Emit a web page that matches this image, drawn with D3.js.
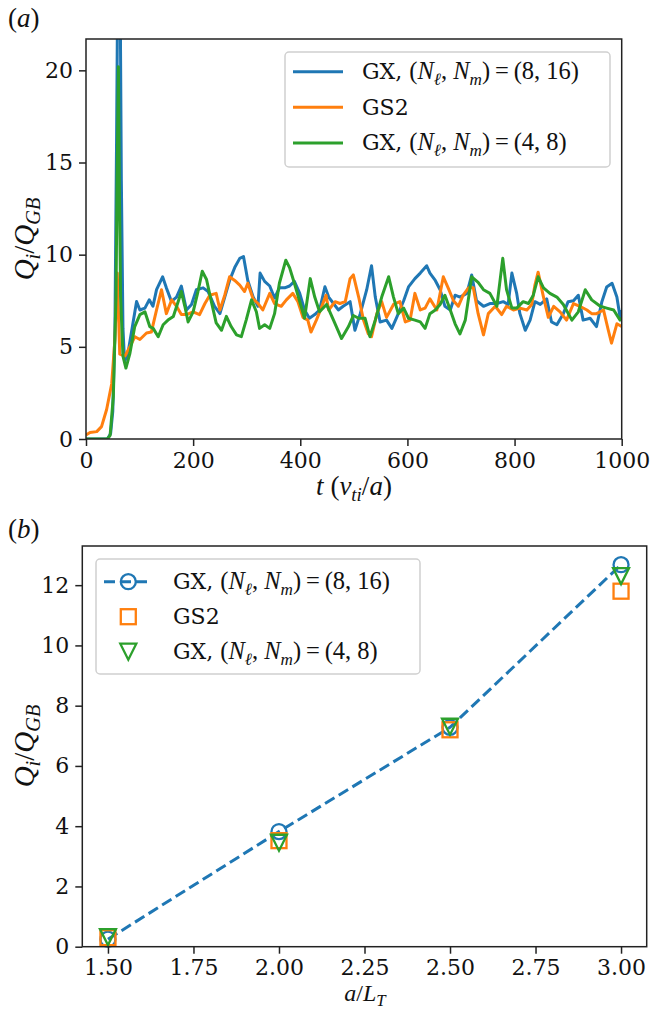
<!DOCTYPE html>
<html>
<head>
<meta charset="utf-8">
<script src="https://cdn.jsdelivr.net/npm/d3@7"></script>
<style>
  body { margin: 0; background: #fff; }
  svg { display: block; }
</style>
</head>
<body>
<svg id="chart" width="654" height="1011"></svg>
<script>
// ---- panel (a): heat flux time traces, [t, Q] pairs
const gx816Trace = [[0,0],[40,0],[46,0.3],[50,1.5],[54,6],[57,16],[60,28],[63,28],[66,14],[69,6],[72,4.2],[78,4.6],[86,6],[94.4,7.46],[100.6,7.0],[110,7.1],[118,7.55],[125,7.2],[131.7,8.1],[143,8.8],[150,8.2],[159.6,7.46],[169,7.7],[178,8.3],[187.5,7.0],[197,7.3],[206,8.1],[218.6,8.2],[228,8.0],[240,7.2],[250,6.8],[259,7.7],[268,8.6],[277.6,9.3],[287,9.8],[294,9.9],[302,8.6],[312,7.7],[321,7.2],[325,9.0],[333.5,8.55],[343,8.3],[352,7.65],[361,8.2],[371,8.2],[380,8.3],[389,8.55],[399,7.9],[408,7.0],[417,6.55],[427,6.75],[436,7.0],[446,8.26],[453,7.7],[462,7.35],[471,7.0],[480,7.2],[493,7.45],[502,5.9],[512,6.8],[524,8.1],[533,9.4],[540,7.7],[549,6.35],[561,6.45],[571,6.0],[580,6.6],[593,7.5],[602,8.25],[614,8.7],[624,9.0],[636,9.4],[642,9.0],[652,8.6],[661,8.1],[670,7.2],[680,7.0],[689,7.8],[698,7.7],[711,7.9],[720,8.9],[729,7.5],[742,7.2],[754,7.35],[767,7.35],[779,7.45],[788,7.3],[795,9.0],[804,7.9],[810,6.8],[820,5.9],[829,6.45],[838,7.45],[848,7.3],[860,7.6],[869,6.35],[879,6.2],[891,6.8],[900,7.45],[910,7.5],[919,7.8],[928,6.45],[941,6.55],[953,6.1],[963,7.45],[972,8.25],[982,8.45],[991,7.7],[997,6.6],[1000,7.0]];

const gs2Trace = [[0,0.22],[7.5,0.35],[20,0.4],[29,0.67],[38.5,1.6],[48,3.0],[54,5.4],[58.4,9.0],[63,4.6],[72.7,4.5],[82,5.0],[91.3,5.55],[100.6,5.4],[113,5.75],[122,5.8],[131.7,7.0],[141,8.1],[150,6.8],[160,7.55],[169,7.2],[178,6.75],[187.5,6.75],[200,6.9],[212,6.75],[222,7.35],[231,7.8],[243,7.9],[250,7.0],[259,7.8],[268,8.8],[277.6,8.6],[287,8.35],[296,8.0],[302,8.45],[312,7.6],[321,7.35],[330,7.0],[343,7.9],[352,7.35],[364.5,7.2],[374,7.55],[386,7.9],[395.6,7.45],[405,6.6],[414,6.45],[420,5.8],[430,6.45],[439,7.1],[448,7.8],[453,7.0],[465,7.45],[474,7.35],[484,7.45],[493,8.7],[499,8.9],[509,7.7],[518,6.45],[527,5.7],[533,5.55],[543,6.8],[552,7.45],[561,6.6],[574,7.3],[586,7.45],[596,6.35],[605,6.45],[614,7.9],[624,7.0],[633,7.1],[642,7.6],[655,7.0],[667,8.8],[676,8.2],[686,7.5],[695,7.2],[704,7.8],[714,8.2],[723,8.2],[732,6.8],[742,5.65],[751,6.8],[764,7.2],[776,6.75],[785,7.2],[798,7.0],[810,7.1],[823,7.0],[832,7.3],[838,8.35],[844,9.05],[854,7.7],[863,6.6],[873,7.2],[885,6.9],[897,6.45],[910,7.35],[922,7.2],[935,7.0],[944,6.8],[953,6.8],[966,7.0],[975,5.9],[981,5.2],[991,6.25],[1000,6.1]];

const gx48Trace = [[0,0],[40,0],[45,0.2],[51,2.3],[56,7.7],[58,14],[60.5,20.2],[62.5,13],[64.6,7.7],[69,4.5],[74.5,3.85],[82,4.65],[91,6.1],[100.6,6.75],[110,6.9],[119,6.1],[125.4,6.0],[134.8,5.55],[144,6.2],[153,6.45],[163,6.65],[172,7.45],[178,8.0],[184.5,7.2],[190.6,6.35],[200,6.9],[209,8.0],[217,9.1],[225,8.65],[234,7.45],[243,6.3],[253,5.9],[262,6.65],[271,6.1],[281,5.65],[290,5.55],[299,6.45],[309,7.55],[318,6.9],[324,6.0],[333.5,6.2],[343,6.0],[352,6.8],[361,8.45],[373,9.7],[380,9.3],[389,8.45],[399,7.45],[408,6.55],[418.6,8.7],[427,7.7],[436,6.9],[449,7.3],[462,6.45],[477,5.45],[490,6.1],[499,6.7],[509,6.55],[521,6.55],[530,5.55],[540,6.45],[552,7.7],[565,8.8],[574,7.7],[583,6.8],[593,7.1],[602,6.55],[614,6.45],[624,6.35],[633,6.0],[642,6.8],[652,7.0],[661,7.3],[670,7.8],[680,7.0],[689,6.25],[698,5.7],[708,6.45],[720,8.8],[732,8.5],[742,8.1],[754,7.9],[767,7.2],[778,9.8],[785,8.1],[795,7.1],[804,7.1],[816,7.45],[826,7.35],[835,7.8],[844,8.8],[854,8.2],[866,7.9],[879,7.7],[891,7.3],[907,6.45],[919,6.9],[932,8.1],[944,7.55],[960,7.2],[972,7.1],[985,7.0],[997,6.45],[1000,6.55]];

const tTicks = [0, 200, 400, 600, 800, 1000];
const qTicksA = [0, 5, 10, 15, 20];

// ---- panel (b): time-averaged flux vs gradient
const gradients = [1.5, 2.0, 2.5, 3.0];
const gx816Q = [0.25, 3.82, 7.28, 12.68];
const gs2Q = [0.3, 3.52, 7.2, 11.8];
const gx48Q = [0.32, 3.45, 7.3, 12.3];
const gradTicks = [1.5, 1.75, 2.0, 2.25, 2.5, 2.75, 3.0];
const qTicksB = [0, 2, 4, 6, 8, 10, 12];

const blue = "#1f77b4", orange = "#ff7f0e", green = "#2ca02c";
const tickFont = "DejaVu Serif";
const mathFont = "Liberation Serif";
const fs = 22;

const svg = d3.select("#chart");

// write a math-ish label from parts: [text, italic?, sub?]
function mathText(sel, parts, size) {
  let inSub = false;
  parts.forEach(([txt, ital, sub]) => {
    const ts = sel.append("tspan").text(txt)
      .attr("font-family", ital === "r" ? tickFont : mathFont)
      .attr("font-style", ital === true ? "italic" : "normal")
      .attr("font-size", ital === "r" ? fs : (sub ? size * 0.7 : size));
    if (sub && !inSub) ts.attr("dy", size * 0.22);
    if (!sub && inSub) ts.attr("dy", -size * 0.22);
    inSub = !!sub;
  });
}

const qLabel = [["Q", true], ["i", true, true], ["/", false], ["Q", true], ["GB", true, true]];

function frame(g, x, y, xTicks, yTicks, xFmt, yFmt) {
  const [x0, x1] = x.range(), [y0, y1] = y.range();
  const xa = g.append("g").attr("transform", `translate(0,${y0})`)
    .call(d3.axisBottom(x).tickValues(xTicks).tickFormat(xFmt).tickSize(7).tickPadding(6).tickSizeOuter(0));
  const ya = g.append("g").attr("transform", `translate(${x0},0)`)
    .call(d3.axisLeft(y).tickValues(yTicks).tickFormat(yFmt).tickSize(7).tickPadding(6).tickSizeOuter(0));
  [xa, ya].forEach(a => {
    a.select(".domain").remove();
    a.selectAll("line").attr("stroke", "#222").attr("stroke-width", 1.5);
    a.selectAll("text").attr("font-family", tickFont).attr("font-size", fs).attr("fill", "#111");
  });
  g.append("rect").attr("x", x0).attr("y", y1).attr("width", x1 - x0).attr("height", y0 - y1)
    .attr("fill", "none").attr("stroke", "#222").attr("stroke-width", 1.5);
}

function legendBox(g, x, y, w, h) {
  g.append("rect").attr("x", x).attr("y", y).attr("width", w).attr("height", h)
    .attr("rx", 4).attr("fill", "#fff").attr("fill-opacity", 0.8)
    .attr("stroke", "#d0d0d0").attr("stroke-width", 1.5);
}

function legendLabel(g, x, y, parts) {
  const t = g.append("text").attr("x", x).attr("y", y).attr("fill", "#111");
  mathText(t, parts, 24.5);
}

const gxParts = (a, b) => [["GX, ", "r"], ["(", false], ["N", true], ["ℓ", true, true], [", ", false], ["N", true], ["m", true, true], [")\u2009=\u2009(" + a + ", " + b + ")", false]];

// ================= panel (a) =================
const xA = d3.scaleLinear().domain([0, 1000]).range([86, 621.7]);
const yA = d3.scaleLinear().domain([0, 21.7]).range([439, 39]);
const gA = svg.append("g");

gA.append("clipPath").attr("id", "clipA").append("rect")
  .attr("x", 86).attr("y", 39).attr("width", 621.7 - 86).attr("height", 400);

const lineA = d3.line().x(d => xA(d[0])).y(d => yA(d[1]));
[[gx816Trace, blue], [gs2Trace, orange], [gx48Trace, green]].forEach(([data, c]) => {
  gA.append("path").datum(data).attr("d", lineA).attr("clip-path", "url(#clipA)")
    .attr("fill", "none").attr("stroke", c).attr("stroke-width", 3)
    .attr("stroke-linejoin", "round").attr("stroke-linecap", "butt");
});

frame(gA, xA, yA, tTicks, qTicksA, d3.format("d"), d3.format("d"));

legendBox(gA, 285, 52, 325, 115);
[[blue, gxParts(8, 16)], [orange, [["GS2", "r"]]], [green, gxParts(4, 8)]].forEach(([c, parts], i) => {
  const yy = 71.7 + i * 35.6;
  gA.append("line").attr("x1", 293).attr("x2", 343).attr("y1", yy).attr("y2", yy)
    .attr("stroke", c).attr("stroke-width", 3);
  legendLabel(gA, 362, yy + 7.5, parts);
});

gA.append("text").attr("x", 8).attr("y", 27).attr("font-family", mathFont).attr("font-size", 27)
  .attr("fill", "#111").html('(<tspan font-style="italic">a</tspan>)');

const yLabA = gA.append("text").attr("transform", "translate(34,239) rotate(-90)")
  .attr("text-anchor", "middle").attr("fill", "#111");
mathText(yLabA, qLabel, 29);

const xLabA = gA.append("text").attr("x", 354).attr("y", 495).attr("text-anchor", "middle").attr("fill", "#111");
mathText(xLabA, [["t", true], [" (", false], ["v", true], ["ti", true, true], ["/", false], ["a", true], [")", false]], 27);

// ================= panel (b) =================
const xB = d3.scaleLinear().domain([1.425, 3.075]).range([82.3, 646.7]);
const yB = d3.scaleLinear().domain([0, 13.3]).range([946.7, 546]);
const gB = svg.append("g");

const ptsGX816 = gradients.map((g, i) => [g, gx816Q[i]]);
const ptsGS2 = gradients.map((g, i) => [g, gs2Q[i]]);
const ptsGX48 = gradients.map((g, i) => [g, gx48Q[i]]);

const lineB = d3.line().x(d => xB(d[0])).y(d => yB(d[1]));
gB.append("path").datum(ptsGX816).attr("d", lineB).attr("fill", "none")
  .attr("stroke", blue).attr("stroke-width", 3).attr("stroke-dasharray", "11,5");

const tri = (cx, cy, r) => `M${cx - r},${cy - r}L${cx + r},${cy - r}L${cx},${cy + r}Z`;

function circ(g, cx, cy) {
  g.append("circle").attr("cx", cx).attr("cy", cy).attr("r", 7.5)
    .attr("fill", "none").attr("stroke", blue).attr("stroke-width", 2.3);
}
function sq(g, cx, cy) {
  g.append("rect").attr("x", cx - 7.5).attr("y", cy - 7.5).attr("width", 15).attr("height", 15)
    .attr("fill", "none").attr("stroke", orange).attr("stroke-width", 2.3);
}
function trg(g, cx, cy) {
  g.append("path").attr("d", tri(cx, cy, 8))
    .attr("fill", "none").attr("stroke", green).attr("stroke-width", 2.3);
}

ptsGX816.forEach(d => circ(gB, xB(d[0]), yB(d[1])));
ptsGS2.forEach(d => sq(gB, xB(d[0]), yB(d[1])));
ptsGX48.forEach(d => trg(gB, xB(d[0]), yB(d[1])));

frame(gB, xB, yB, gradTicks, qTicksB, d3.format(".2f"), d3.format("d"));

legendBox(gB, 96, 559, 324, 115);
const legY = [581.7, 616.7, 651.7];
gB.append("line").attr("x1", 104).attr("x2", 152).attr("y1", legY[0]).attr("y2", legY[0])
  .attr("stroke", blue).attr("stroke-width", 3).attr("stroke-dasharray", "11,5");
circ(gB, 128.3, legY[0]);
sq(gB, 128.3, legY[1]);
trg(gB, 128.3, legY[2]);
legendLabel(gB, 173, legY[0] + 7.5, gxParts(8, 16));
legendLabel(gB, 173, legY[1] + 7.5, [["GS2", "r"]]);
legendLabel(gB, 173, legY[2] + 7.5, gxParts(4, 8));

gB.append("text").attr("x", 8).attr("y", 538).attr("font-family", mathFont).attr("font-size", 27)
  .attr("fill", "#111").html('(<tspan font-style="italic">b</tspan>)');

const yLabB = gB.append("text").attr("transform", "translate(34,746) rotate(-90)")
  .attr("text-anchor", "middle").attr("fill", "#111");
mathText(yLabB, qLabel, 29);

const xLabB = gB.append("text").attr("x", 365).attr("y", 1001).attr("text-anchor", "middle").attr("fill", "#111");
mathText(xLabB, [["a", true], ["/", false], ["L", true], ["T", true, true]], 24);
</script>
</body>
</html>
